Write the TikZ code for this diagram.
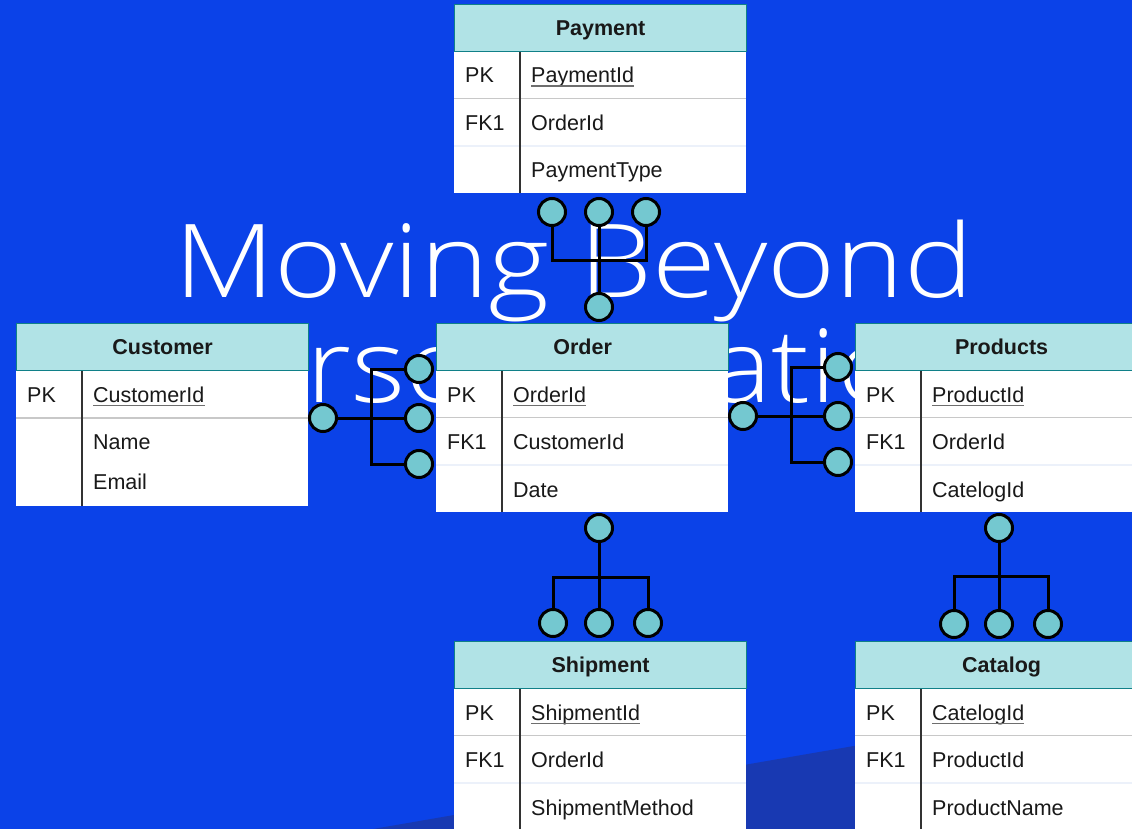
\documentclass[tikz,border=0pt]{standalone}
\usepackage{fontspec}
\setmainfont{Liberation Sans}
\IfFontExistsTF{Open Sans Light}
  {\newfontfamily\titlefont{Open Sans Light}[FakeStretch=1.14]}
  {\newfontfamily\titlefont{Open Sans}[FakeStretch=1.14]}

\definecolor{bgblue}{RGB}{11,66,232}
\definecolor{bgdark}{RGB}{24,57,178}
\definecolor{hdrfill}{RGB}{177,227,230}
\definecolor{hdrline}{RGB}{16,128,136}
\definecolor{knobfill}{RGB}{116,200,208}
\definecolor{txt}{RGB}{25,25,25}
\definecolor{sepgray}{RGB}{200,200,200}
\definecolor{seplight}{RGB}{236,241,250}
\definecolor{divgray}{RGB}{50,50,50}
\definecolor{ulgray}{RGB}{110,110,110}

\tikzset{
  hdr/.style={draw=hdrline, line width=1.2, fill=hdrfill, inner sep=0,
    minimum width=292, minimum height=47, anchor=north west,
    text height=15.4, text depth=0.5, text=txt,
    font=\fontsize{21.5}{24}\selectfont\bfseries},
  celltxt/.style={inner sep=0, anchor=base west, text=txt,
    font=\fontsize{21.5}{24}\selectfont},
  ulline/.style={draw=ulgray, line width=1.4},
  rowsep/.style={draw=sepgray, line width=1.6},
  rowsoft/.style={draw=seplight, line width=1.6},
  keydiv/.style={draw=divgray, line width=2},
  knob/.style={circle, draw=black, fill=knobfill, line width=3,
    minimum size=27, inner sep=0},
  link/.style={draw=black, line width=3},
  titletxt/.style={inner sep=0, anchor=base, text=white,
    font=\titlefont\fontsize{102}{104}\selectfont}
}

% entity table: #1 id, #2 left, #3 top, #4 title, #5 key field,
% #6 second key, #7 second field, #8 third field
\newcommand\erdtable[8]{%
  \fill[white] (#2,#3+47) rectangle (#2+292,#3+189);
  \draw[rowsep] (#2,#3+94.5) -- (#2+292,#3+94.5);
  \draw[rowsoft] (#2,#3+142) -- (#2+292,#3+142);
  \draw[keydiv] (#2+66,#3+47) -- (#2+66,#3+189);
  \node[hdr] (#1) at (#2,#3) {#4};
  \node[celltxt] (#1-k1) at (#2+11,#3+79) {PK};
  \node[celltxt] (#1-f1) at (#2+77,#3+79) {#5};
  \draw[ulline] ([yshift=-3.2pt]#1-f1.base west) -- ([yshift=-3.2pt]#1-f1.base east);
  \node[celltxt] (#1-k2) at (#2+11,#3+126.5) {#6};
  \node[celltxt] (#1-f2) at (#2+77,#3+126.5) {#7};
  \node[celltxt] (#1-f3) at (#2+77,#3+174) {#8};
}

\begin{document}
\begin{tikzpicture}[x=1pt, y=-1pt]
  \useasboundingbox (0,0) rectangle (1132,829);
  \clip (0,0) rectangle (1132,829);

  % backdrop
  \fill[bgblue] (0,0) rectangle (1132,829);
  \fill[bgdark] (373,829) -- (1132,698) -- (1132,829) -- cycle;

  % heading
  \node[titletxt] (title1) at (574,297) {Moving Beyond};
  \node[titletxt] (title2) at (574,402) {Personalization};

  % Payment -- Order
  \node[knob] (po1) at (552,212) {};
  \node[knob] (po2) at (599,212) {};
  \node[knob] (po3) at (646,212) {};
  \node[knob] (po4) at (599,307) {};
  \coordinate (poL) at (552,260);
  \coordinate (poR) at (646,260);
  \draw[link] (po1) -- (poL) -- (poR) -- (po3);
  \draw[link] (po2) -- (po4);

  % Customer -- Order
  \node[knob] (co0) at (323,418) {};
  \node[knob] (co1) at (419,369) {};
  \node[knob] (co2) at (419,418) {};
  \node[knob] (co3) at (419,464) {};
  \coordinate (coT) at (371,369);
  \coordinate (coB) at (371,464);
  \draw[link] (co1) -- (coT) -- (coB) -- (co3);
  \draw[link] (co0) -- (co2);

  % Order -- Products
  \node[knob] (op0) at (743,416) {};
  \node[knob] (op1) at (838,367) {};
  \node[knob] (op2) at (838,416) {};
  \node[knob] (op3) at (838,462) {};
  \coordinate (opT) at (791,367);
  \coordinate (opB) at (791,462);
  \draw[link] (op1) -- (opT) -- (opB) -- (op3);
  \draw[link] (op0) -- (op2);

  % Order -- Shipment
  \node[knob] (os0) at (599,528) {};
  \node[knob] (os1) at (553,623) {};
  \node[knob] (os2) at (599,623) {};
  \node[knob] (os3) at (648,623) {};
  \coordinate (osL) at (553,577);
  \coordinate (osR) at (648,577);
  \draw[link] (os1) -- (osL) -- (osR) -- (os3);
  \draw[link] (os0) -- (os2);

  % Products -- Catalog
  \node[knob] (pc0) at (999,528) {};
  \node[knob] (pc1) at (954,624) {};
  \node[knob] (pc2) at (999,624) {};
  \node[knob] (pc3) at (1048,624) {};
  \coordinate (pcL) at (954,576);
  \coordinate (pcR) at (1048,576);
  \draw[link] (pc1) -- (pcL) -- (pcR) -- (pc3);
  \draw[link] (pc0) -- (pc2);

  % entities
  \erdtable{payment}{454}{4}{Payment}{PaymentId}{FK1}{OrderId}{PaymentType}
  \erdtable{order}{436}{323}{Order}{OrderId}{FK1}{CustomerId}{Date}
  \erdtable{products}{855}{323}{Products}{ProductId}{FK1}{OrderId}{CatelogId}
  \erdtable{shipment}{454}{641}{Shipment}{ShipmentId}{FK1}{OrderId}{ShipmentMethod}
  \erdtable{catalog}{855}{641}{Catalog}{CatelogId}{FK1}{ProductId}{ProductName}

  % Customer has a shorter body and no foreign key
  \fill[white] (16,370.5) rectangle (308,506);
  \draw[rowsep] (16,418) -- (308,418);
  \draw[keydiv] (82,370.5) -- (82,506);
  \node[hdr] (customer) at (16,323) {Customer};
  \node[celltxt] (customer-k1) at (27,402.5) {PK};
  \node[celltxt] (customer-f1) at (93,402.5) {CustomerId};
  \draw[ulline] ([yshift=-3.2pt]customer-f1.base west) -- ([yshift=-3.2pt]customer-f1.base east);
  \node[celltxt] (customer-f2) at (93,449.5) {Name};
  \node[celltxt] (customer-f3) at (93,489.5) {Email};
\end{tikzpicture}
\end{document}
